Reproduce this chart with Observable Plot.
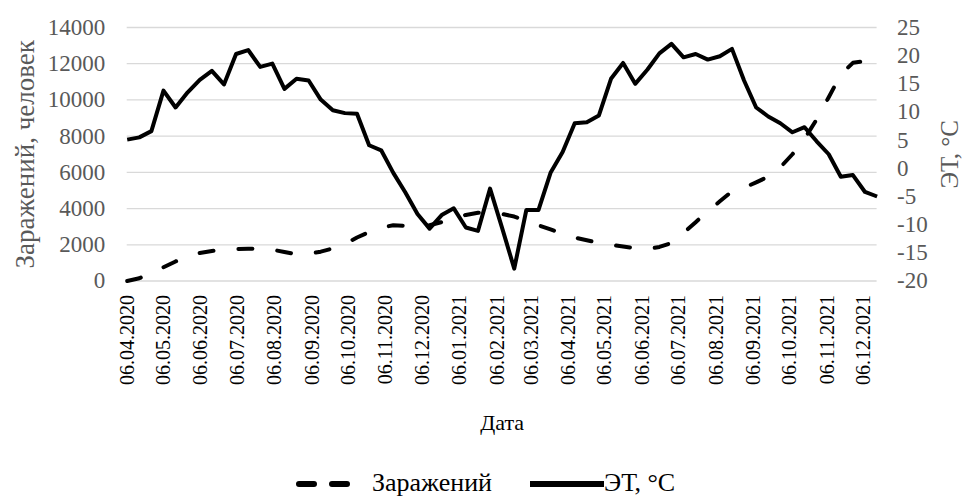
<!DOCTYPE html>
<html>
<head>
<meta charset="utf-8">
<script src="https://cdn.jsdelivr.net/npm/d3@7"></script>
<script src="https://cdn.jsdelivr.net/npm/@observablehq/plot@0.6"></script>
<style>
  html, body { margin: 0; padding: 0; background: #fff; }
  #chart { width: 965px; }
  #legend { position: relative; width: 965px; height: 50px; font-family: "Liberation Serif", "Times New Roman", serif; color: #000; }
  #legend .it { position: absolute; top: 16px; height: 34px; line-height: 34px; font-size: 26px; white-space: nowrap; }
  #legend svg { position: absolute; top: 28px; }
</style>
</head>
<body>
<div id="chart"></div>
<div id="legend">
  <svg style="left:295px" width="64" height="12"><line x1="4" x2="60" y1="6" y2="6" stroke="#000" stroke-width="6" stroke-dasharray="15 18" stroke-linecap="round"/></svg>
  <span class="it" style="left:372px">Заражений</span>
  <svg style="left:529px" width="76" height="12"><line x1="1" x2="75" y1="6" y2="6" stroke="#000" stroke-width="6"/></svg>
  <span class="it" style="left:604px">ЭТ, °C</span>
</div>
<script>
// 10-day observation dates
const dates = [
  "2020-04-06","2020-04-16","2020-04-26","2020-05-06","2020-05-16","2020-05-26",
  "2020-06-05","2020-06-15","2020-06-25","2020-07-05","2020-07-15","2020-07-25",
  "2020-08-04","2020-08-14","2020-08-24","2020-09-03","2020-09-13","2020-09-23",
  "2020-10-03","2020-10-13","2020-10-23","2020-11-02","2020-11-12","2020-11-22",
  "2020-12-02","2020-12-12","2020-12-22","2021-01-01","2021-01-11","2021-01-21",
  "2021-01-31","2021-02-10","2021-02-20","2021-03-02","2021-03-12","2021-03-22",
  "2021-04-01","2021-04-11","2021-04-21","2021-05-01","2021-05-11","2021-05-21",
  "2021-05-31","2021-06-10","2021-06-20","2021-06-30","2021-07-10","2021-07-20",
  "2021-07-30","2021-08-09","2021-08-19","2021-08-29","2021-09-08","2021-09-18",
  "2021-09-28","2021-10-08","2021-10-18","2021-10-28","2021-11-07","2021-11-17",
  "2021-11-27","2021-12-07","2021-12-17"
];
// Заражений (left axis)
const infections = [
  0,150,450,760,1080,1370,1550,1660,1740,1770,
  1780,1800,1730,1600,1480,1500,1620,1800,2050,2400,
  2700,2950,3080,3050,2980,3080,3250,3430,3650,3770,
  3800,3700,3560,3330,3080,2850,2620,2400,2250,2100,
  2000,1900,1810,1760,1880,2100,2650,3250,3850,4400,
  4950,5150,5450,5760,6280,7000,7850,8920,10150,11400,
  12050,12150,11610
];
// ЭТ, °C (right axis)
const temperature = [
  5.1,5.5,6.6,13.8,10.8,13.5,15.7,17.3,14.9,20.3,
  21.0,18.0,18.6,14.1,15.9,15.6,12.2,10.3,9.8,9.7,
  4.1,3.2,-0.8,-4.3,-8.1,-10.7,-8.3,-7.1,-10.5,-11.1,
  -3.6,-10.6,-17.8,-7.4,-7.4,-0.8,2.9,8.0,8.2,9.4,
  15.9,18.7,15.0,17.5,20.4,22.1,19.7,20.3,19.3,19.9,
  21.2,15.6,10.8,9.2,8.0,6.4,7.3,4.8,2.5,-1.5,
  -1.2,-4.2,-5.0
];
const xTickLabels = [
  "06.04.2020","06.05.2020","06.06.2020","06.07.2020","06.08.2020","06.09.2020",
  "06.10.2020","06.11.2020","06.12.2020","06.01.2021","06.02.2021","06.03.2021",
  "06.04.2021","06.05.2021","06.06.2021","06.07.2021","06.08.2021","06.09.2021",
  "06.10.2021","06.11.2021","06.12.2021"
];
const leftTicks = [0,2000,4000,6000,8000,10000,12000,14000];
const rightTicks = [-20,-15,-10,-5,0,5,10,15,20,25];

const parseISO = d3.utcParse("%Y-%m-%d");
const parseLbl = d3.utcParse("%d.%m.%Y");
const fmtLbl = d3.utcFormat("%d.%m.%Y");
const L0 = 0, L1 = 14000, R0 = -20, R1 = 25;
const toLeft = t => L0 + (t - R0) * (L1 - L0) / (R1 - R0);
const toRight = v => R0 + (v - L0) * (R1 - R0) / (L1 - L0);

const data = dates.map((d, i) => ({date: parseISO(d), inf: infections[i], temp: temperature[i]}));
const font = "'Liberation Serif', 'Times New Roman', serif";

const chart = Plot.plot({
  width: 965,
  height: 450,
  marginTop: 27,
  marginBottom: 169.5,
  marginLeft: 126.7,
  marginRight: 88.4,
  style: {fontFamily: font, background: "#fff", overflow: "visible"},
  x: {type: "utc", domain: [parseISO(dates[0]), parseISO(dates[dates.length - 1])], axis: null},
  y: {domain: [L0, L1], axis: null},
  marks: [
    Plot.ruleY(leftTicks, {stroke: "#d9d9d9", strokeWidth: 1.3}),
    Plot.axisY(leftTicks, {anchor: "left", tickSize: 0, tickPadding: 22, fontSize: 23, color: "#595959", label: null, tickFormat: d => String(d)}),
    Plot.axisY(rightTicks.map(toLeft), {anchor: "right", tickSize: 0, tickPadding: 20, fontSize: 23, color: "#595959", label: null, tickFormat: v => String(Math.round(toRight(v)))}),
    Plot.axisX(xTickLabels.map(parseLbl), {anchor: "bottom", tickSize: 0, tickPadding: 14, tickRotate: -90, fontSize: 20, color: "#000", label: null, tickFormat: fmtLbl}),
    Plot.line(data, {x: "date", y: "inf", stroke: "#000", strokeWidth: 4, strokeDasharray: "14 25", strokeLinecap: "round", strokeLinejoin: "round"}),
    Plot.line(data, {x: "date", y: d => toLeft(d.temp), stroke: "#000", strokeWidth: 4, strokeLinecap: "butt", strokeLinejoin: "round"}),
    Plot.text(["Заражений, человек"], {frameAnchor: "left", dx: -102, rotate: -90, textAnchor: "middle", lineAnchor: "middle", fontSize: 27, fill: "#595959", text: d => d}),
    Plot.text(["ЭТ, °C"], {frameAnchor: "right", dx: 73, rotate: -90, textAnchor: "middle", lineAnchor: "middle", fontSize: 25, fill: "#595959", text: d => d}),
    Plot.text(["Дата"], {frameAnchor: "bottom", dy: 149, fontSize: 22, fill: "#000", text: d => d})
  ]
});
document.getElementById("chart").appendChild(chart);
</script>
</body>
</html>
